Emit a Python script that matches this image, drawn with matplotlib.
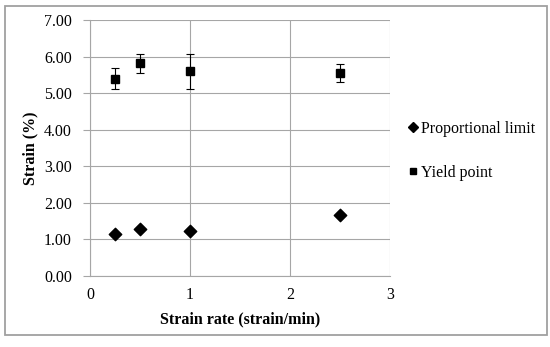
import matplotlib.pyplot as plt
from matplotlib.patches import Rectangle
from matplotlib.lines import Line2D

# strain rate (strain/min)
rates = [0.25, 0.5, 1.0, 2.5]
prop_limit = [1.15, 1.29, 1.23, 1.66]
yield_pt = [5.40, 5.82, 5.60, 5.56]
yield_err = [0.30, 0.26, 0.48, 0.25]

plt.rcParams['font.family'] = ['Liberation Serif', 'DejaVu Serif']

fig = plt.figure(figsize=(5.5, 3.47), dpi=100)
ax = fig.add_axes([0.1636, 0.2046, 0.5455, 0.7378])

ax.scatter(rates, prop_limit, marker='D', s=40, color='black', zorder=3)
ax.errorbar(rates, yield_pt, yerr=yield_err, fmt='s', ms=6.3, color='black',
            ecolor='black', elinewidth=0.8, capsize=3, capthick=0.8, zorder=3)

ax.set_xlim(0, 3)
ax.set_ylim(0, 7)
ax.set_xticks([0, 1, 2, 3])
ax.set_yticks(range(8))
ax.set_yticklabels(['%.2f' % v for v in range(8)])
ax.grid(True, color='#a6a6a6', linewidth=0.8)
ax.set_axisbelow(True)
for s in ['top', 'right']:
    ax.spines[s].set_visible(False)
for s in ['left', 'bottom']:
    ax.spines[s].set_color('#a6a6a6')
    ax.spines[s].set_linewidth(0.8)
ax.tick_params(axis='y', length=5, color='#a6a6a6', labelsize=11.5, pad=8)
ax.tick_params(axis='x', length=0, labelsize=11.5, pad=8)

ax.set_xlabel('Strain rate (strain/min)', fontsize=11.5, fontweight='bold', labelpad=6)
ax.set_ylabel('Strain (%)', fontsize=11.5, fontweight='bold', labelpad=4)

h = [Line2D([], [], marker='D', ms=5, color='black', ls='none'),
     Line2D([], [], marker='s', ms=5, color='black', ls='none')]
l = ['Proportional limit', 'Yield point']
fig.legend(h, l, loc='center left', bbox_to_anchor=(0.71, 0.565),
           frameon=False, fontsize=11.5, handletextpad=0.0,
           handlelength=1.0, labelspacing=1.75)

fig.patches.append(Rectangle((0.009, 0.035), 0.985, 0.948, transform=fig.transFigure,
                             fill=False, edgecolor='#a0a0a0', linewidth=1.3))

fig.savefig('out.png', dpi=100)
